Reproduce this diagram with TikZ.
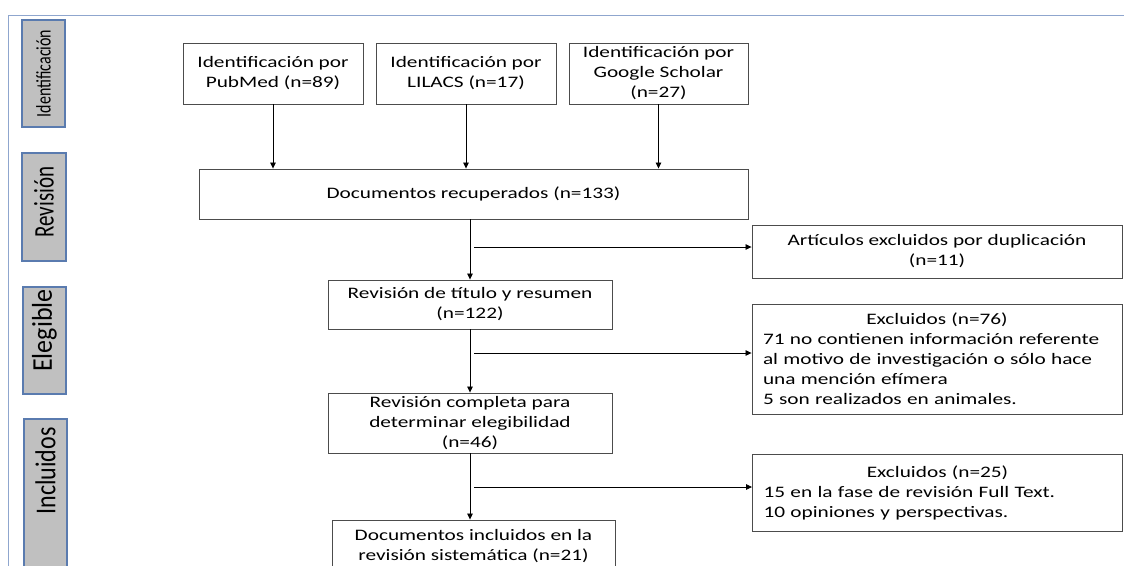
\documentclass[tikz,border=0pt]{standalone}
\usepackage{graphicx}
\usepackage{fontspec}
\setmainfont[FakeStretch=1.33]{Carlito}
\newfontfamily\phasefont{Carlito}
\usetikzlibrary{arrows.meta,positioning}
\definecolor{phaseedge}{HTML}{5A7BAF}
\definecolor{phasefill}{HTML}{C0C0C0}
\definecolor{frameline}{HTML}{8FA6CE}
\newcommand{\phaselabel}[3]{\phasefont\fontsize{#1}{#1}\selectfont\scalebox{1}[#2]{#3}}

\begin{document}
\begin{tikzpicture}[x=1pt,y=-1pt,
  stagebox/.style={draw=black!70,line width=0.9pt,fill=white,align=center,inner sep=0pt,font=\fontsize{16}{20}\selectfont},
  exclbox/.style={stagebox,align=left,text width=348pt,inner xsep=11pt},
  phasebox/.style={draw=phaseedge,line width=1.3pt,fill=phasefill,inner sep=0pt,rotate=90},
  flow/.style={-{Triangle[length=6pt,width=5.5pt]},line width=0.8pt}]
\useasboundingbox (0,0) rectangle (1124,565);
\clip (0,0) rectangle (1124,565);
% outer frame, only top and left edge visible
\draw[frameline,line width=1pt] (1130,15) -| (8,575);
% phase labels on the left
\node[phasebox,minimum width=107pt,minimum height=43pt] (ident) at (43.5,73.5) {\phaselabel{16}{1.3}{Identificación}};
\node[phasebox,minimum width=108pt,minimum height=44pt] (revis) at (44,207) {\phaselabel{21}{1.35}{\hspace*{10pt}Revisión}};
\node[phasebox,minimum width=107pt,minimum height=43pt] (elegi) at (44.5,340.5) {\phaselabel{26}{1.1}{\hspace*{20pt}Elegible}};
\node[phasebox,minimum width=171pt,minimum height=43pt] (inclu) at (45.5,504.5) {};
\node[rotate=90] (inclutext) at (45.5,471) {\phaselabel{24}{1.2}{Incluidos}};
% sources
\node[stagebox,minimum width=180pt,minimum height=61pt] (pubmed) at (273,73.5) {Identificación por\\PubMed (n=89)};
\node[stagebox,minimum width=180pt,minimum height=61pt] (lilacs) at (466,73.5) {Identificación por\\LILACS (n=17)};
\node[stagebox,minimum width=179pt,minimum height=61pt] (scholar) at (658.5,73.5) {Identificación por\\Google Scholar\\(n=27)};
% main flow
\node[stagebox,minimum width=549pt,minimum height=50pt] (recup) at (473.5,194) {Documentos recuperados (n=133)};
\node[stagebox,minimum width=284pt,minimum height=49pt] (titulo) at (470,304.5) {Revisión de título y resumen\\(n=122)};
\node[stagebox,minimum width=284pt,minimum height=60pt] (completa) at (470,423) {Revisión completa para\\determinar elegibilidad\\(n=46)};
\node[stagebox,minimum width=283pt,minimum height=52pt] (final) at (473.5,546) {Documentos incluidos en la\\revisión sistemática (n=21)};
% exclusions
\node[stagebox,minimum width=370pt,minimum height=53pt] (dupl) at (937,251.5) {Artículos excluidos por duplicación\\(n=11)};
\node[exclbox,minimum height=110pt] (excla) at (937,359) {{\centering Excluidos (n=76)\par}71 no contienen información referente\\al motivo de investigación o sólo hace\\una mención efímera\\5 son realizados en animales.};
\node[exclbox,minimum height=77pt] (exclb) at (937.5,492.5) {{\centering Excluidos (n=25)\par}15 en la fase de revisión Full Text.\\10 opiniones y perspectivas.};
% arrows
\draw[flow] (pubmed.south) -- (pubmed.south |- recup.north);
\draw[flow] (lilacs.south) -- (lilacs.south |- recup.north);
\draw[flow] (scholar.south) -- (scholar.south |- recup.north);
\draw[flow] (titulo.north |- recup.south) -- (titulo.north);
\draw[flow] (titulo.south) -- (completa.north);
\draw[flow] (completa.south) -- (completa.south |- final.north);
\coordinate (split1) at (474,247);
\coordinate (split2) at (474,353);
\coordinate (split3) at (474,487);
\draw[flow] (split1) -- (split1 -| dupl.west);
\draw[flow] (split2) -- (split2 -| excla.west);
\draw[flow] (split3) -- (split3 -| exclb.west);
\end{tikzpicture}
\end{document}
